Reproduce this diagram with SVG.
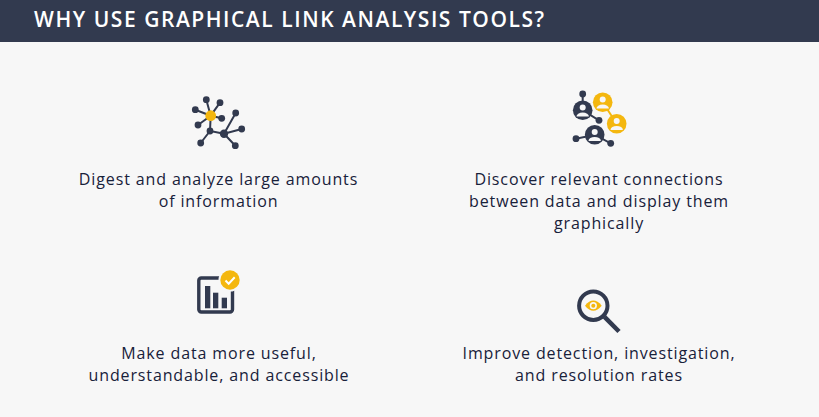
<svg xmlns="http://www.w3.org/2000/svg" width="819" height="417" viewBox="0 0 819 417">
<style>
.t{font-family:"Open Sans","Noto Sans",sans-serif;font-size:16px;letter-spacing:.875px;fill:#18213a;text-anchor:middle}
.h{font-family:"Open Sans","Noto Sans",sans-serif;font-size:21px;font-weight:600;letter-spacing:1.54px;fill:#fff}
.d{fill:#323a4f}.y{fill:#f4b70f}.l{stroke:#323a4f;stroke-width:2;fill:none}.w{fill:#f7f7f7}
</style>
<rect width="819" height="417" fill="#f7f7f7"/>
<g id="header"><rect width="819" height="42" fill="#323a4f"/><text class="h" x="34" y="27">WHY USE GRAPHICAL LINK ANALYSIS TOOLS?</text></g>
<g id="node-digest">
<path class="l" d="M206.3 99.7L210.7 115.7M220 102.7L210.7 115.7M195.3 109.7L210.7 115.7M221.7 118.3L210.7 115.7M198 125L210.7 115.7M210.7 115.7L210 131L224 133.7M210 131L200.7 143M224 133.7L235.7 113M224 133.7L241.7 129M224 133.7L235.3 145.7"/>
<g class="d"><circle cx="206.3" cy="99.7" r="3.4"/><circle cx="220" cy="102.7" r="3.4"/><circle cx="195.3" cy="109.7" r="3.4"/><circle cx="221.7" cy="118.3" r="3.4"/><circle cx="198" cy="125" r="3.4"/><circle cx="210" cy="131" r="3.4"/><circle cx="224" cy="133.7" r="4.2"/><circle cx="235.7" cy="113" r="3.4"/><circle cx="241.7" cy="129" r="3.4"/><circle cx="235.3" cy="145.7" r="3.4"/><circle cx="200.7" cy="143" r="3.4"/></g>
<circle class="y" cx="210.7" cy="115.7" r="5.4"/>
<text class="t" x="218.5" y="185">Digest and analyze large amounts</text><text class="t" x="218.5" y="207">of information</text>
</g>
<g id="node-discover">
<path class="l" d="M582.7 94V110.3L599 120.3M576 138.7L594.7 134.7L610.7 143.3"/>
<path d="M602.7 102.3L616.7 123.7" stroke="#f4b70f" stroke-width="2"/>
<g class="d"><circle cx="582.7" cy="94" r="3.4"/><circle cx="599" cy="120.3" r="3.4"/><circle cx="576" cy="138.7" r="3.4"/><circle cx="610.7" cy="143.3" r="3.4"/><circle cx="582.7" cy="110.3" r="9.8"/><circle cx="594.7" cy="134.7" r="9.8"/></g>
<circle class="y" cx="602.7" cy="102.3" r="9.8"/><circle class="y" cx="616.7" cy="123.7" r="9.8"/>
<g class="w"><circle cx="582.7" cy="107.5" r="3"/><path d="M576.5 116.5a6.2 4 0 0 1 12.4 0z"/><circle cx="594.7" cy="131.9" r="3"/><path d="M588.5 140.9a6.2 4 0 0 1 12.4 0z"/><circle cx="602.7" cy="99.5" r="3"/><path d="M596.5 108.5a6.2 4 0 0 1 12.4 0z"/><circle cx="616.7" cy="120.9" r="3"/><path d="M610.5 129.9a6.2 4 0 0 1 12.4 0z"/></g>
<text class="t" x="599" y="185">Discover relevant connections</text><text class="t" x="599" y="207">between data and display them</text><text class="t" x="599" y="229">graphically</text>
</g>
<g id="node-useful">
<rect x="198.8" y="278" width="33.7" height="34" rx="2.5" fill="none" stroke="#323a4f" stroke-width="3.4"/>
<g class="d"><rect x="205" y="286" width="5.3" height="22.3"/><rect x="213" y="292.7" width="5.3" height="15.6"/><rect x="221.7" y="297.7" width="5.3" height="10.6"/></g>
<circle class="w" cx="230" cy="280" r="11.5"/><circle class="y" cx="230" cy="280" r="9.7"/>
<path d="M225.5 280.5l3.2 3.2l6-6.5" fill="none" stroke="#fff" stroke-width="2"/>
<text class="t" x="219" y="359">Make data more useful,</text><text class="t" x="219" y="381">understandable, and accessible</text>
</g>
<g id="node-improve">
<circle cx="593.3" cy="305.7" r="14.2" fill="none" stroke="#323a4f" stroke-width="4"/>
<path d="M604.5 316.8L619 331.5" stroke="#323a4f" stroke-width="4.5" fill="none"/>
<path class="y" d="M585 305.7Q593.3 295.5 601.7 305.7Q593.3 316 585 305.7z"/>
<circle class="w" cx="593.3" cy="305.7" r="3.6"/><circle class="y" cx="593.3" cy="305.7" r="2"/>
<text class="t" x="599" y="359">Improve detection, investigation,</text><text class="t" x="599" y="381">and resolution rates</text>
</g>
</svg>
